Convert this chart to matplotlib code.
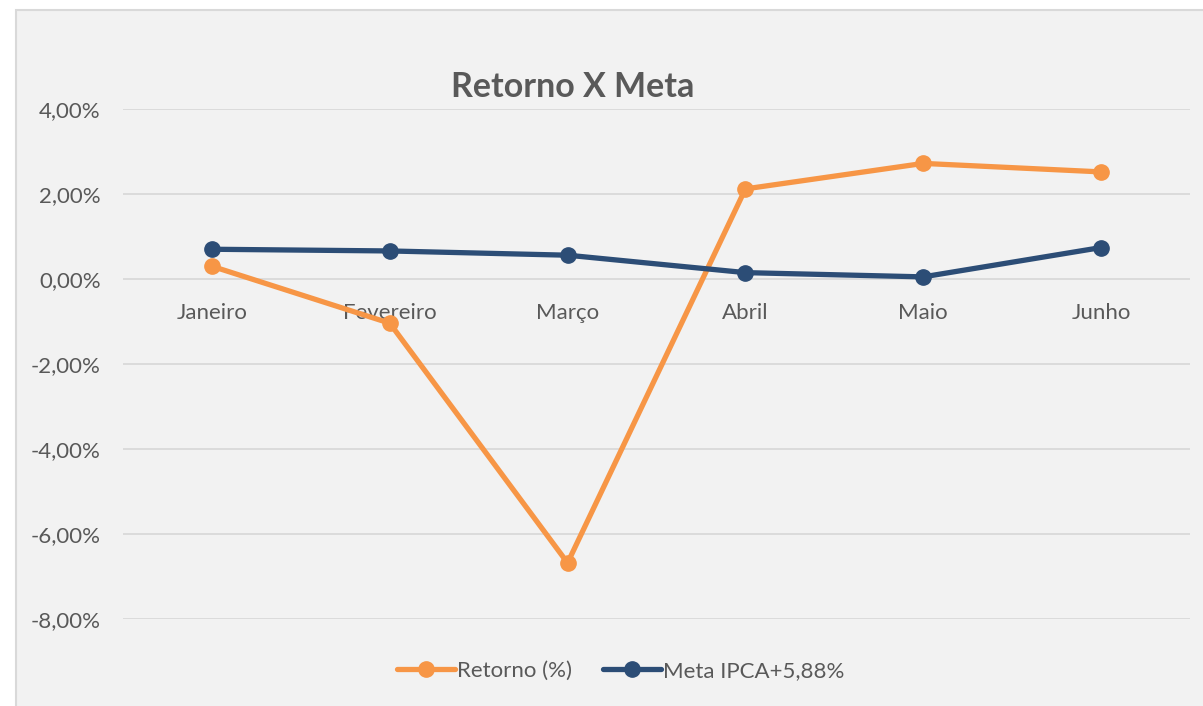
import matplotlib.pyplot as plt
from matplotlib.patches import Rectangle
from matplotlib.ticker import FuncFormatter

meses = ["Janeiro", "Fevereiro", "Março", "Abril", "Maio", "Junho"]
retorno = [0.30, -1.04, -6.68, 2.12, 2.72, 2.52]
meta = [0.70, 0.66, 0.56, 0.15, 0.05, 0.74]

plt.rcParams['font.family'] = ['Lato', 'DejaVu Sans']
cinza = '#595959'

fig = plt.figure(figsize=(12.03, 7.06), dpi=100, facecolor='white')
# fundo do grafico (estilo Excel)
fundo = Rectangle((16 / 1203, -0.01), 1, 1.01 - 10 / 706, transform=fig.transFigure,
                  facecolor='#f2f2f2', edgecolor='#d9d9d9', linewidth=1.5, zorder=-10)
fig.add_artist(fundo)

ax = fig.add_axes([123 / 1203, 1 - 619 / 706, 1067 / 1203, 510 / 706])
ax.set_facecolor('none')

x = list(range(len(meses)))
ax.plot(x, retorno, color='#F79646', linewidth=3.8, marker='o', markersize=11,
        label="Retorno (%)", zorder=3, solid_capstyle='round')
ax.plot(x, meta, color='#2C4D76', linewidth=3.8, marker='o', markersize=11,
        label="Meta IPCA+5,88%", zorder=3, solid_capstyle='round')

ax.set_xlim(-0.5, len(meses) - 0.5)
ax.set_ylim(-8, 4)
ax.set_yticks([-8, -6, -4, -2, 0, 2, 4])
ax.yaxis.set_major_formatter(FuncFormatter(lambda v, p: f"{v:.2f}%".replace('.', ',')))
ax.set_xticks(x)
ax.set_xticklabels(meses)

for s in ax.spines.values():
    s.set_visible(False)
ax.spines['bottom'].set_position(('data', 0))
ax.grid(axis='y', color='#d9d9d9', linewidth=1.3)
ax.set_axisbelow(True)
ax.tick_params(axis='both', length=0, labelsize=16, labelcolor=cinza)
ax.tick_params(axis='y', pad=16)
ax.tick_params(axis='x', pad=17)

fig.text(573 / 1203, 1 - 87 / 706, "Retorno X Meta", ha='center', va='center',
         fontsize=24.5, fontweight='bold', color=cinza)

leg = fig.legend(loc='center', bbox_to_anchor=(621 / 1203, 1 - 671 / 706), ncol=2,
                 frameon=False, fontsize=16, handlelength=2.6, handletextpad=0.1,
                 columnspacing=1.4)
for t in leg.get_texts():
    t.set_color(cinza)

fig.savefig("out.png", dpi=100, facecolor=fig.get_facecolor())
